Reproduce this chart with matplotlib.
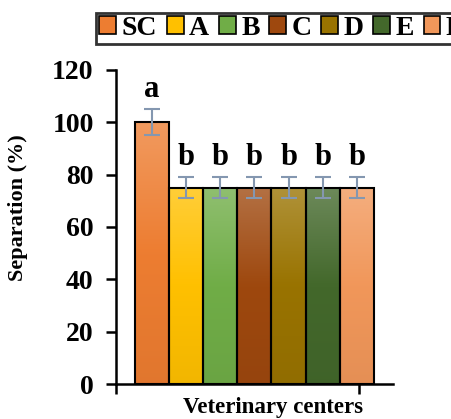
import matplotlib.pyplot as plt
import numpy as np
from matplotlib.colors import to_rgb
from matplotlib.patches import Patch

# data
centers = ["SC", "A", "B", "C", "D", "E", "F"]
separation = [100, 75, 75, 75, 75, 75, 75]
errors = [5, 4, 4, 4, 4, 4, 4]
letters = ["a", "b", "b", "b", "b", "b", "b"]
colors = ["#ED7D31", "#FFC000", "#70AD47", "#9E480E", "#997300", "#43682B", "#F1975A"]

plt.rcParams["font.family"] = ["Liberation Serif", "DejaVu Serif"]
plt.rcParams["font.weight"] = "bold"

fig = plt.figure(figsize=(4.51, 4.19), dpi=100)
ax = fig.add_axes([0.257, 0.0835, 0.614, 0.75])

x = list(range(len(centers)))
bars = ax.bar(x, separation, width=1.0, color="none", edgecolor="black",
              linewidth=1.5, zorder=3)

# Excel-like vertical gradient: lighter at top, slightly darker at bottom
t = np.linspace(0, 1, 64)[:, None]  # 0 = bottom, 1 = top
for bar, c in zip(bars, colors):
    base = np.array(to_rgb(c))
    light = base + (1 - base) * 0.22
    dark = base * 0.95
    up = np.where(t > 0.5, (t - 0.5) * 2, 0)
    down = np.where(t < 0.5, (0.5 - t) * 2, 0)
    img = base * (1 - up - down) + light * up + dark * down
    img = img[:, None, :]
    x0 = bar.get_x()
    im = ax.imshow(img, extent=[x0, x0 + bar.get_width(), 0, bar.get_height()],
                   origin="lower", aspect="auto", zorder=2, interpolation="bilinear")
    im.set_clip_path(bar)

ax.errorbar(x, separation, yerr=errors, fmt="none", ecolor="#8497B0",
            elinewidth=1.5, capsize=6, capthick=1.5, zorder=4)
for xi, v, e, lab in zip(x, separation, errors, letters):
    ax.text(xi, v + e + 2, lab, ha="center", va="bottom", fontsize=22, fontweight="bold")

ax.set_xlim(-1.05, 7 - 1 + 1.05)
ax.set_ylim(0, 120)
ax.set_yticks(range(0, 121, 20))
ax.set_xticks([-1.05, 7.05 - 1])
ax.set_xticklabels([])
for s in ("top", "right"):
    ax.spines[s].set_visible(False)
for s in ("left", "bottom"):
    ax.spines[s].set_linewidth(1.8)
ax.tick_params(axis="both", direction="out", length=7, width=1.8, labelsize=20)
ax.tick_params(axis="y", pad=9)
ax.set_ylabel("Separation (%)", fontsize=16, fontweight="bold")
ax.yaxis.set_label_coords(-0.318, 0.56)
ax.set_xlabel("Veterinary centers", fontsize=16.5, fontweight="bold")
ax.xaxis.set_label_coords(0.567, -0.04)

handles = [Patch(facecolor=c, edgecolor="black", linewidth=1.2) for c in colors]
leg = fig.legend(handles, centers, loc="upper left", bbox_to_anchor=(0.213, 0.97),
                 ncol=7, frameon=True, fancybox=False, edgecolor="black",
                 prop={"size": 20, "weight": "bold"}, handlelength=0.6, handleheight=0.6,
                 handletextpad=0.2, columnspacing=0.35, borderpad=0.12,
                 borderaxespad=0)
leg.get_frame().set_linewidth(2)

fig.savefig("out.png", dpi=100)
